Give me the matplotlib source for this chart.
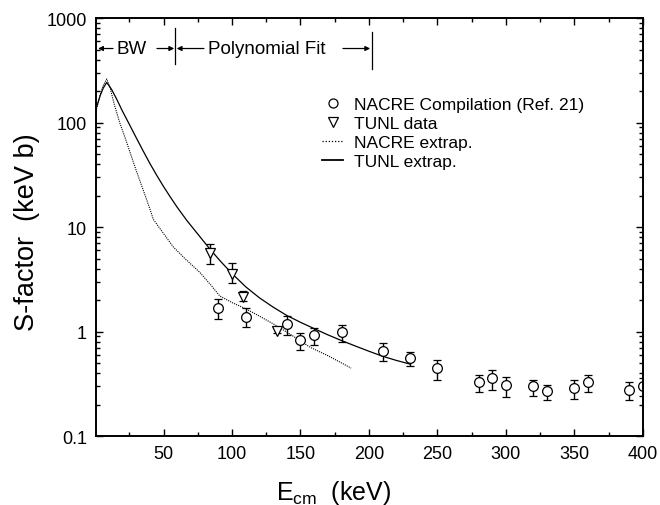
import matplotlib
matplotlib.use('Agg')
import matplotlib.pyplot as plt
from matplotlib.lines import Line2D
from matplotlib.ticker import MultipleLocator, LogLocator, NullFormatter, FixedLocator, FixedFormatter
import numpy as np

plt.rcParams['font.family'] = ['Liberation Sans', 'DejaVu Sans']
plt.rcParams['mathtext.fontset'] = 'custom'
plt.rcParams['mathtext.rm'] = 'Liberation Sans'

# NACRE compilation (Ref. 21)
nacre_E = [90, 110, 140, 150, 160, 180, 210, 230, 250, 280, 290, 300, 320, 330, 350, 360, 390, 400]
nacre_S = [1.67, 1.39, 1.18, 0.835, 0.93, 1.0, 0.655, 0.555, 0.445, 0.327, 0.357, 0.308, 0.299, 0.268, 0.286, 0.327, 0.277, 0.30]
nacre_lo = [1.32, 1.10, 0.93, 0.67, 0.74, 0.80, 0.525, 0.465, 0.346, 0.265, 0.275, 0.238, 0.243, 0.221, 0.226, 0.262, 0.222, 0.24]
nacre_hi = [2.05, 1.67, 1.42, 0.98, 1.08, 1.15, 0.78, 0.64, 0.537, 0.386, 0.43, 0.369, 0.346, 0.31, 0.346, 0.386, 0.331, 0.36]

# TUNL data
tunl_E = [84, 100, 108, 133]
tunl_S = [5.7, 3.6, 2.17, 1.02]
tunl_lo = [4.4, 2.9, 1.97, 0.97]
tunl_hi = [6.9, 4.5, 2.45, 1.08]

# extrapolation curves
nacre_ext_E = [1, 4, 6, 8.5, 11, 14, 18, 21.9, 26, 30, 35, 40, 42.5, 50, 57, 65, 76.6, 85, 91,
               100, 110.7, 120, 132.6, 145, 157, 170, 187]
nacre_ext_S = [135, 190, 228, 262, 215, 150, 100, 72, 50, 35, 23, 15, 11.9, 8.7, 6.5, 5.1, 3.68, 2.75, 2.2,
               1.9, 1.64, 1.41, 1.14, 0.90, 0.71, 0.59, 0.448]
tunl_ext_E = [1, 4, 6, 8.5, 12, 16, 20, 25, 30, 35, 40, 45, 50, 55, 60, 67, 75, 84, 92, 100,
              110, 120, 130, 140, 150, 160, 170, 180, 190, 200, 210, 220, 230]
tunl_ext_S = [140, 186, 215, 243, 209, 166, 129, 96.6, 72.1, 54, 40.8, 31.4, 24.5, 19.4, 15.5, 11.6, 8.6, 6.14, 4.66, 3.6,
              2.69, 2.11, 1.72, 1.43, 1.23, 1.07, 0.933, 0.822, 0.73, 0.65, 0.582, 0.531, 0.49]

# region markers at the top (keV)
bw_edge = 58.4
fit_edge = 202.4

fig = plt.figure(figsize=(6.6, 5.06), dpi=100)
ax = fig.add_axes([0.1455, 0.136, 0.8285, 0.826])

ax.plot(nacre_ext_E, nacre_ext_S, color='black', lw=0.8, ls=(0, (1, 1)))
ax.plot(tunl_ext_E, tunl_ext_S, color='black', lw=0.9)

nacre_err = [np.array(nacre_S) - np.array(nacre_lo), np.array(nacre_hi) - np.array(nacre_S)]
tunl_err = [np.array(tunl_S) - np.array(tunl_lo), np.array(tunl_hi) - np.array(tunl_S)]
ax.errorbar(nacre_E, nacre_S, yerr=nacre_err, fmt='o', mfc='white', mec='black', color='black',
            ms=7, mew=0.9, elinewidth=1.0, capsize=3, capthick=1.0)
ax.errorbar(tunl_E, tunl_S, yerr=tunl_err, fmt='v', mfc='white', mec='black', color='black',
            ms=7.5, mew=0.9, elinewidth=1.0, capsize=3, capthick=1.0)

ax.set_yscale('log')
ax.set_xlim(0.7, 400)
ax.set_ylim(0.1, 1000)

ax.xaxis.set_major_locator(FixedLocator([50, 100, 150, 200, 250, 300, 350, 400]))
ax.xaxis.set_minor_locator(MultipleLocator(25))
ax.yaxis.set_major_locator(FixedLocator([0.1, 1, 10, 100, 1000]))
ax.yaxis.set_major_formatter(FixedFormatter(['0.1', '1', '10', '100', '1000']))
ax.yaxis.set_minor_locator(LogLocator(base=10, subs=np.arange(2, 10)))
ax.yaxis.set_minor_formatter(NullFormatter())
ax.tick_params(which='both', direction='in', top=True, right=True, labelsize=13, width=1.0)
ax.tick_params(which='major', length=5)
ax.tick_params(which='minor', length=3)
ax.tick_params(axis='x', pad=6)
ax.tick_params(axis='y', pad=6.5)
for s in ax.spines.values():
    s.set_linewidth(1.4)

ax.set_xlabel(r'E$_{\mathregular{cm}}$  (keV)', fontsize=18)
ax.xaxis.set_label_coords(0.435, -0.1)
ax.set_ylabel('S-factor  (keV b)', fontsize=19.5)
ax.yaxis.set_label_coords(-0.102, 0.49)

# BW / Polynomial Fit annotations
arrow_y = 513
ax.plot([bw_edge, bw_edge], [363, 802], color='black', lw=0.9)
ax.plot([fit_edge, fit_edge], [325, 735], color='black', lw=0.9)
arr = dict(arrowstyle='-|>', color='black', lw=0.9, mutation_scale=7, shrinkA=0, shrinkB=0)
ax.annotate('', xy=(2.2, arrow_y), xytext=(13.1, arrow_y), arrowprops=arr)
ax.text(16, arrow_y, 'BW', fontsize=13.5, va='center', ha='left')
ax.annotate('', xy=(bw_edge - 0.6, arrow_y), xytext=(45.2, arrow_y), arrowprops=arr)
ax.annotate('', xy=(bw_edge + 1.2, arrow_y), xytext=(79.5, arrow_y), arrowprops=arr)
ax.text(82.2, arrow_y, 'Polynomial Fit', fontsize=13.5, va='center', ha='left')
ax.annotate('', xy=(fit_edge - 1.5, arrow_y), xytext=(181, arrow_y), arrowprops=arr)

handles = [
    Line2D([], [], ls='none', marker='o', mfc='white', mec='black', ms=6.5, mew=0.9),
    Line2D([], [], ls='none', marker='v', mfc='white', mec='black', ms=6.5, mew=0.9),
    Line2D([], [], color='black', lw=0.9, ls=(0, (1, 1.5))),
    Line2D([], [], color='black', lw=1.3),
]
labels = ['NACRE Compilation (Ref. 21)', 'TUNL data', 'NACRE extrap.', 'TUNL extrap.']
ax.legend(handles, labels, loc='upper left', bbox_to_anchor=(0.398, 0.832), frameon=False,
          fontsize=12.5, handlelength=1.2, handletextpad=0.6, labelspacing=0.22, borderpad=0)

fig.savefig('out.png', dpi=100)
